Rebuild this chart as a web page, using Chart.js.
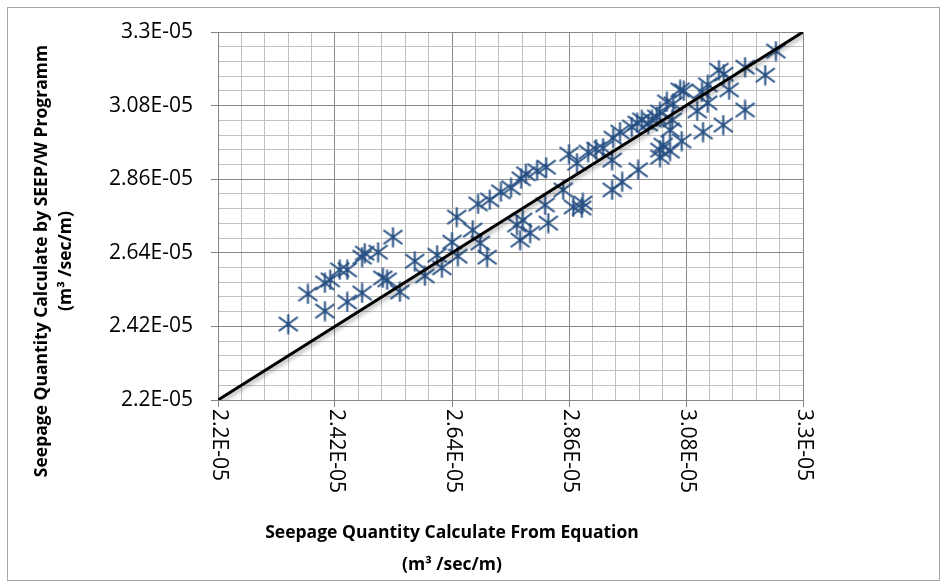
<!DOCTYPE html>
<html>
<head>
<meta charset="utf-8">
<script src="https://cdn.jsdelivr.net/npm/chart.js@4"></script>
<style>
  html, body { margin: 0; padding: 0; background: #fff; }
</style>
</head>
<body>
<canvas id="chart" width="944" height="584"></canvas>
<script>
// values are in units of 1E-05 m3/sec/m
const UNIT = 1e-5;

const majorTicks = [2.2, 2.42, 2.64, 2.86, 3.08, 3.3];
const tickLabels = ['2.2E-05', '2.42E-05', '2.64E-05', '2.86E-05', '3.08E-05', '3.3E-05'];
const minorPerMajor = 5;

// Seepage from equation (x)
const equationValues = [
  2.332, 2.369, 2.401, 2.401, 2.411, 2.429, 2.443, 2.443, 2.471, 2.476,
  2.471, 2.501, 2.529, 2.510, 2.518, 2.542, 2.570, 2.589, 2.612, 2.621,
  2.640, 2.649, 2.651, 2.679, 2.693, 2.706, 2.689, 2.711, 2.732, 2.751,
  2.770, 2.779, 2.800, 2.817, 2.860, 2.875, 2.762, 2.773, 2.768, 2.787,
  2.815, 2.821, 2.849, 2.868, 2.884, 2.911, 2.924, 2.941, 2.943, 2.956,
  2.978, 2.988, 2.997, 3.009, 3.016, 3.031, 3.044, 3.056, 3.076, 3.110,
  3.121, 3.142, 3.151, 3.161, 3.191, 3.229, 3.249, 3.121, 3.101, 3.191,
  3.150, 3.112, 3.072, 3.050, 3.025, 3.054, 3.037, 3.031, 3.050, 3.031,
  2.990, 2.960, 2.941, 2.886, 3.069, 2.896
];

// Seepage from SEEP/W (y)
const seepwValues = [
  2.427, 2.517, 2.466, 2.550, 2.559, 2.589, 2.589, 2.493, 2.627, 2.639,
  2.520, 2.642, 2.687, 2.565, 2.559, 2.523, 2.615, 2.571, 2.633, 2.595,
  2.672, 2.747, 2.630, 2.708, 2.669, 2.627, 2.786, 2.798, 2.822, 2.834,
  2.861, 2.876, 2.885, 2.896, 2.935, 2.908, 2.723, 2.738, 2.678, 2.699,
  2.783, 2.729, 2.828, 2.777, 2.774, 2.950, 2.953, 2.917, 2.983, 3.001,
  3.016, 3.028, 3.037, 3.025, 3.037, 3.061, 3.091, 3.085, 3.124, 3.121,
  3.142, 3.186, 3.174, 3.127, 3.195, 3.171, 3.243, 3.088, 3.064, 3.067,
  3.022, 3.001, 2.974, 3.007, 3.046, 3.037, 2.962, 2.947, 2.944, 2.926,
  2.888, 2.852, 2.828, 2.789, 3.127, 2.941
];

// 1:1 line
const lineX = [2.2, 3.3];
const lineY = [2.2, 3.3];

const xTitle = ['Seepage Quantity Calculate From Equation', '(m\u00B3 /sec/m)'];
const yTitle = ['Seepage Quantity Calculate by SEEP/W Programm', '(m\u00B3 /sec/m)'];

const MARKER = '#254E82';
const MAJOR_GRID = '#878787';
const MINOR_GRID = '#C0C0C0';

// major + minor tick values
const allTicks = [];
for (let i = 0; i < majorTicks.length - 1; i++) {
  const step = (majorTicks[i + 1] - majorTicks[i]) / minorPerMajor;
  for (let j = 0; j < minorPerMajor; j++) allTicks.push((majorTicks[i] + step * j) * UNIT);
}
allTicks.push(majorTicks[majorTicks.length - 1] * UNIT);

// Excel-style star marker: X with a vertical bar
const star = document.createElement('canvas');
star.width = 21;
star.height = 21;
(function () {
  const g = star.getContext('2d');
  g.strokeStyle = MARKER;
  g.lineWidth = 2;
  g.beginPath();
  g.moveTo(1, 3.5); g.lineTo(20, 17.5);
  g.moveTo(20, 3.5); g.lineTo(1, 17.5);
  g.moveTo(10.5, 0.5); g.lineTo(10.5, 20.5);
  g.stroke();
})();

const isMajor = (i) => i % minorPerMajor === 0;

const gridOpts = {
  color: (c) => isMajor(c.index) ? MAJOR_GRID : MINOR_GRID,
  tickColor: (c) => isMajor(c.index) ? MAJOR_GRID : 'rgba(0,0,0,0)',
  tickLength: 7,
  lineWidth: 1
};

const excelPlugin = {
  id: 'excelLook',
  beforeDatasetDraw(chart, args) {
    if (args.index === 1) {
      const ctx = chart.ctx;
      ctx.save();
      ctx.shadowColor = 'rgba(0,0,0,0.35)';
      ctx.shadowBlur = 4;
      ctx.shadowOffsetX = 2;
      ctx.shadowOffsetY = 2;
    }
  },
  afterDatasetDraw(chart, args) {
    if (args.index === 1) chart.ctx.restore();
  },
  afterDraw(chart) {
    const ctx = chart.ctx;
    const xs = chart.scales.x;

    // outer chart border
    ctx.save();
    ctx.strokeStyle = '#A6A6A6';
    ctx.lineWidth = 1;
    ctx.strokeRect(7.5, 7.5, 932, 573);

    // rotated x tick labels
    ctx.fillStyle = '#000';
    ctx.font = '21px "Open Sans"';
    ctx.textAlign = 'left';
    ctx.textBaseline = 'middle';
    majorTicks.forEach((v, i) => {
      const px = xs.getPixelForValue(v * UNIT);
      ctx.save();
      ctx.translate(px + 1, chart.chartArea.bottom + 9);
      ctx.rotate(Math.PI / 2);
      ctx.fillText(tickLabels[i], 0, 0);
      ctx.restore();
    });

    // axis titles
    ctx.font = 'bold 17.5px "Open Sans"';
    ctx.textAlign = 'center';
    ctx.fillText(xTitle[0], 452, 533);
    ctx.fillText(xTitle[1], 452, 565);

    ctx.save();
    ctx.translate(42, 261);
    ctx.rotate(-Math.PI / 2);
    ctx.fillText(yTitle[0], 0, 0);
    ctx.fillText(yTitle[1], 0, 24);
    ctx.restore();
    ctx.restore();
  }
};

new Chart(document.getElementById('chart'), {
  type: 'scatter',
  data: {
    datasets: [
      {
        type: 'scatter',
        data: equationValues.map((x, i) => ({ x: x * UNIT, y: seepwValues[i] * UNIT })),
        pointStyle: star,
        pointRadius: 10,
        order: 1
      },
      {
        type: 'line',
        data: lineX.map((x, i) => ({ x: x * UNIT, y: lineY[i] * UNIT })),
        borderColor: '#000',
        borderWidth: 3,
        pointRadius: 0,
        fill: false,
        order: 0
      }
    ]
  },
  options: {
    responsive: false,
    animation: false,
    devicePixelRatio: 1,
    layout: { padding: { top: 32, right: 141, left: 0, bottom: 0 } },
    plugins: {
      legend: { display: false },
      tooltip: { enabled: false }
    },
    scales: {
      x: {
        type: 'linear',
        min: majorTicks[0] * UNIT,
        max: majorTicks[majorTicks.length - 1] * UNIT,
        afterBuildTicks: (s) => { s.ticks = allTicks.map(v => ({ value: v })); },
        afterFit: (s) => { s.height = 184; },
        ticks: { autoSkip: false, callback: () => '' },
        grid: gridOpts,
        border: { color: MAJOR_GRID }
      },
      y: {
        type: 'linear',
        min: majorTicks[0] * UNIT,
        max: majorTicks[majorTicks.length - 1] * UNIT,
        afterBuildTicks: (s) => { s.ticks = allTicks.map(v => ({ value: v })); },
        afterFit: (s) => { s.width = 218; },
        ticks: {
          autoSkip: false,
          padding: 18,
          color: '#000',
          font: { family: 'Open Sans', size: 21 },
          callback: (v, i) => isMajor(i) ? tickLabels[i / minorPerMajor] : ''
        },
        grid: gridOpts,
        border: { color: MAJOR_GRID }
      }
    }
  },
  plugins: [excelPlugin]
});
</script>
</body>
</html>
